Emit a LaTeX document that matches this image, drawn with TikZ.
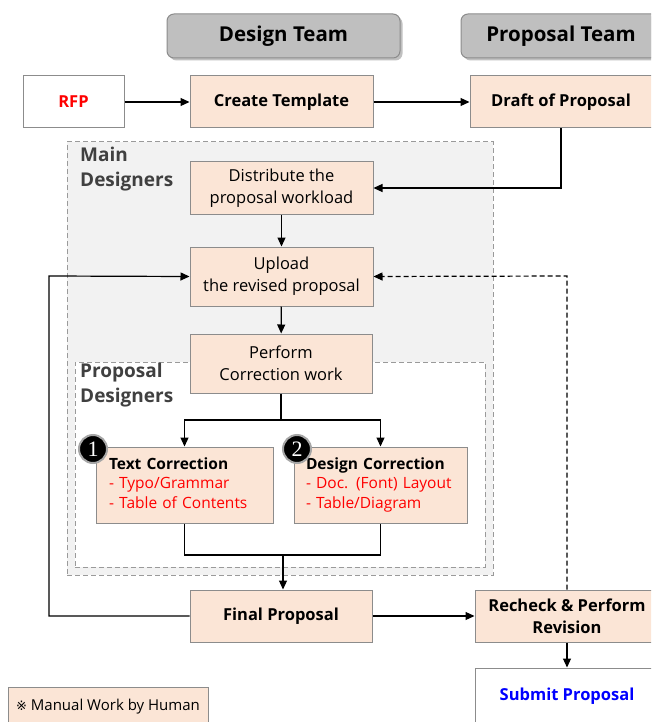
\documentclass[tikz,border=0pt]{standalone}
\usepackage{fontspec}
\setmainfont{Open Sans}
\newfontfamily\djv{DejaVu Sans}
\newfontfamily\numfont{Liberation Serif}
\usetikzlibrary{shadows,arrows.meta}
\definecolor{peach}{HTML}{FBE5D6}
\definecolor{boxgray}{HTML}{8C8C8C}
\definecolor{hdrgray}{HTML}{BFBFBF}
\definecolor{areagray}{HTML}{F2F2F2}
\definecolor{dashgray}{HTML}{9A9A9A}
\definecolor{lblgray}{HTML}{404040}
\definecolor{redtxt}{HTML}{FF0000}
\definecolor{bluetxt}{HTML}{0000FF}
\begin{document}
\begin{tikzpicture}[x=1pt,y=-1pt,
  box/.style={draw=boxgray, fill=peach, line width=1pt, align=center, inner sep=0pt,
    font=\fontsize{16.5}{22}\selectfont},
  bbox/.style={box, font=\bfseries\fontsize{16.5}{22}\selectfont},
  wbox/.style={bbox, fill=white},
  hdr/.style={draw=boxgray, fill=hdrgray, line width=1pt, rounded corners=7pt,
    drop shadow={shadow xshift=2.5pt, shadow yshift=-2.5pt, fill=black!55, opacity=0.45},
    font=\bfseries\fontsize{20.5}{24}\selectfont},
  area/.style={draw=dashgray, line width=1pt, dash pattern=on 5pt off 3pt},
  lbl/.style={anchor=north west, align=left, inner sep=0pt, text=lblgray,
    font=\bfseries\fontsize{19}{25}\selectfont},
  arr/.style={-{Triangle[length=9pt,width=8pt]}, line width=1.2pt},
  ln/.style={line width=1.2pt},
  numc/.style={circle, fill=black, draw=gray!70, line width=2pt, minimum size=28pt, inner sep=0pt,
    text=white, font=\numfont\fontsize{22}{22}\selectfont},
  corr/.style={box, minimum height=76pt, align=left, font=\fontsize{15.5}{19.5}\selectfont}
]
\useasboundingbox (0,0) rectangle (651,722);
\clip (0,0) rectangle (651,722);

% headers
\node[hdr, minimum width=233pt, minimum height=44pt] (dt) at (283.5,36) {Design Team};
\node[hdr, minimum width=200pt, minimum height=44pt] (pt) at (561,36) {Proposal Team};

% areas
\node[area, fill=areagray, minimum width=426pt, minimum height=433pt, inner sep=0pt] (main) at (280,358.5) {};
\node[lbl] (mainlbl) at (80,147) {Main\\Designers};
\node[area, fill=white, minimum width=410pt, minimum height=205pt, inner sep=0pt] (pdes) at (280,464.5) {};
\node[lbl] (pdeslbl) at (80,363) {Proposal\\Designers};

% top row
\node[wbox, text=redtxt, minimum width=101pt, minimum height=52pt] (rfp) at (73.5,102) {RFP};
\node[bbox, minimum width=183pt, minimum height=52pt] (ct) at (281.5,102) {Create Template};
\node[bbox, minimum width=182pt, minimum height=52pt] (draft) at (561,102) {Draft of Proposal};

% main designers
\node[box, minimum width=183pt, minimum height=52pt] (dist) at (281.5,188) {Distribute the\\proposal workload};
\node[box, minimum width=183pt, minimum height=59pt] (up) at (281.5,276.5) {Upload\\the revised proposal};
\node[box, minimum width=182pt, minimum height=59pt] (perf) at (281,363.5) {Perform\\Correction work};

% corrections
\node[corr, minimum width=177pt, text width=151pt, inner xsep=13pt] (tc) at (184.5,485)
  {\strut\textbf{Text Correction}\\\textcolor{redtxt}{- Typo/Grammar}\\\textcolor{redtxt}{- Table of Contents}\strut};
\node[corr, minimum width=173pt, text width=149pt, inner xsep=12pt] (dc) at (380.5,485)
  {\strut\textbf{Design Correction}\\\textcolor{redtxt}{- Doc. (Font) Layout}\\\textcolor{redtxt}{- Table/Diagram}\strut};
\node[numc] (n1) at (93,449) {1};
\node[numc] (n2) at (297,449) {2};

% bottom
\node[bbox, minimum width=182pt, minimum height=52pt] (final) at (281,616) {Final Proposal};
\node[bbox, minimum width=184pt, minimum height=52pt] (rech) at (567,616) {Recheck \& Perform\\Revision};
\node[wbox, text=bluetxt, minimum width=184pt, minimum height=56pt] (sub) at (567,696) {Submit Proposal};
\node[box, minimum width=200pt, minimum height=40pt, font=\fontsize{15}{18}\selectfont] (manual) at (108,707) {{\djv\fontsize{13}{14}\selectfont ※} Manual Work by Human};

% coordinates
\coordinate (br) at (281,420);
\coordinate (mg) at (283,555);
\coordinate (lft) at (49,276);
\coordinate (rgt) at (567,276);

% connectors
\draw[arr] (rfp) -- (ct);
\draw[arr] (ct) -- (draft);
\draw[arr] (draft.south) |- (dist.east);
\draw[arr] (dist) -- (up);
\draw[arr] (up) -- (perf);
\draw[ln] (perf.south) -- (br);
\draw[arr] (br) -| (tc.north);
\draw[arr] (br) -| (dc.north);
\draw[ln] (tc.south) |- (mg) -| (dc.south);
\draw[arr] (mg) -- (final.north -| mg);
\draw[arr] (final) -- (rech);
\draw[arr] (rech) -- (sub);
\draw[arr] (final.west) -| (lft) -- (up.west);
\draw[arr, dash pattern=on 5pt off 3pt] (rech.north) -- (rgt) -- (up.east);
\end{tikzpicture}
\end{document}
